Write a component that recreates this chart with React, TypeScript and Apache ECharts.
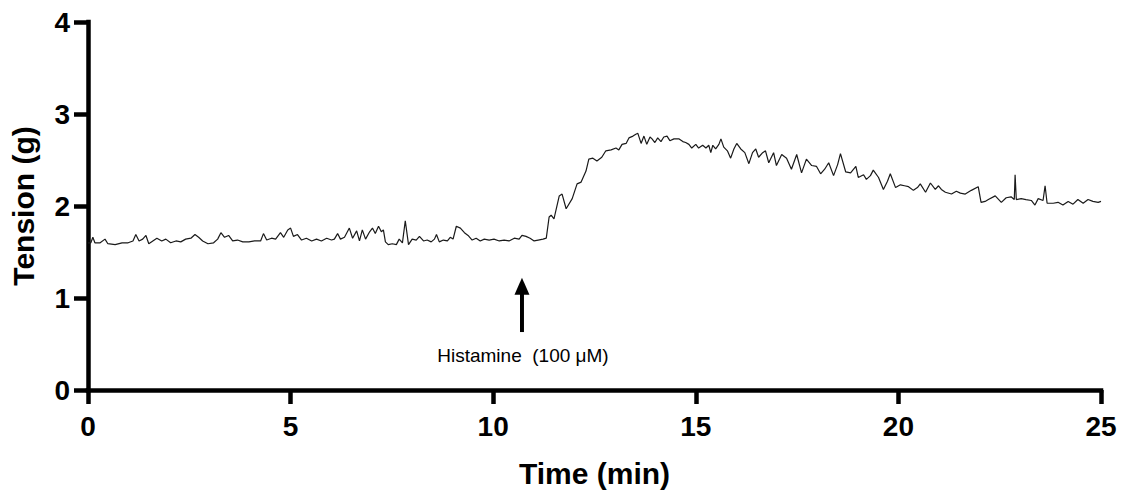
import React, { useEffect, useRef } from "react";
import * as echarts from "echarts";

// Time (min) of each sample of the tension trace
const timeMin = [
  0.0, 0.07, 0.12, 0.17, 0.3, 0.42, 0.49, 0.67, 0.84, 0.99, 1.11, 1.18, 1.26, 1.35, 1.43, 1.5, 1.6, 1.7, 1.82, 1.92,
  2.04, 2.17, 2.29, 2.41, 2.54, 2.64, 2.73, 2.83, 2.96, 3.1, 3.2, 3.28, 3.37, 3.47, 3.57, 3.69, 3.82, 3.97, 4.11, 4.26,
  4.33, 4.41, 4.53, 4.63, 4.75, 4.83, 4.93, 5.0, 5.07, 5.17, 5.27, 5.39, 5.52, 5.64, 5.76, 5.89, 6.01, 6.08, 6.16, 6.23,
  6.33, 6.45, 6.53, 6.63, 6.7, 6.77, 6.85, 6.95, 7.02, 7.09, 7.17, 7.24, 7.29, 7.34, 7.41, 7.51, 7.61, 7.68, 7.76, 7.83,
  7.91, 8.0, 8.1, 8.18, 8.28, 8.37, 8.47, 8.55, 8.6, 8.67, 8.77, 8.87, 8.94, 9.01, 9.09, 9.19, 9.29, 9.38, 9.48, 9.58,
  9.68, 9.78, 9.9, 10.02, 10.15, 10.27, 10.39, 10.52, 10.64, 10.71, 10.81, 10.91, 11.01, 11.11, 11.23, 11.31,
  11.38, 11.43, 11.5, 11.63, 11.7, 11.8, 11.95, 12.07, 12.17, 12.29, 12.36, 12.46, 12.56, 12.68, 12.78, 12.91, 13.03,
  13.1, 13.18, 13.28, 13.35, 13.45, 13.52, 13.57, 13.65, 13.72, 13.79, 13.87, 13.92, 13.99, 14.06, 14.14, 14.21, 14.29,
  14.36, 14.46, 14.58, 14.68, 14.75, 14.83, 14.9, 15.0, 15.07, 15.17, 15.25, 15.32, 15.37, 15.42, 15.49, 15.57, 15.62,
  15.69, 15.78, 15.86, 15.94, 16.01, 16.11, 16.21, 16.31, 16.4, 16.48, 16.55, 16.65, 16.72, 16.8, 16.92, 16.99, 17.12,
  17.24, 17.36, 17.49, 17.61, 17.73, 17.86, 17.98, 18.08, 18.18, 18.28, 18.4, 18.5, 18.57, 18.7, 18.82, 18.95, 19.01,
  19.14, 19.21, 19.31, 19.38, 19.51, 19.63, 19.73, 19.8, 19.93, 20.05, 20.15, 20.25, 20.37, 20.47, 20.54, 20.67, 20.79,
  20.91, 20.99, 21.06, 21.16, 21.31, 21.43, 21.53, 21.65, 21.8, 21.97, 22.04, 22.14, 22.22, 22.39, 22.54, 22.66, 22.78,
  22.86, 22.88, 22.91, 23.03, 23.15, 23.28, 23.37, 23.45, 23.57, 23.62, 23.67, 23.82, 23.94, 24.06, 24.19, 24.31, 24.43,
  24.56, 24.68, 24.8, 24.93, 25.0,
];

// Tension (g) at each sample
const tensionG = [
  1.6, 1.6, 1.66, 1.6, 1.6, 1.64, 1.59, 1.58, 1.6, 1.6, 1.62, 1.69, 1.62, 1.64, 1.68, 1.59, 1.62, 1.65, 1.62, 1.64,
  1.6, 1.62, 1.61, 1.64, 1.65, 1.69, 1.66, 1.62, 1.59, 1.6, 1.64, 1.71, 1.66, 1.68, 1.62, 1.63, 1.61, 1.61, 1.62, 1.62,
  1.7, 1.63, 1.65, 1.64, 1.71, 1.66, 1.74, 1.76, 1.67, 1.69, 1.63, 1.65, 1.62, 1.64, 1.62, 1.65, 1.63, 1.64, 1.7, 1.64,
  1.66, 1.76, 1.65, 1.73, 1.62, 1.74, 1.64, 1.72, 1.76, 1.7, 1.78, 1.72, 1.74, 1.61, 1.58, 1.59, 1.58, 1.64, 1.6, 1.84,
  1.58, 1.64, 1.63, 1.67, 1.62, 1.63, 1.61, 1.64, 1.69, 1.61, 1.63, 1.62, 1.66, 1.64, 1.78, 1.76, 1.71, 1.68, 1.63, 1.65,
  1.62, 1.64, 1.63, 1.64, 1.62, 1.63, 1.62, 1.65, 1.64, 1.68, 1.67, 1.65, 1.62, 1.63, 1.64, 1.65,
  1.88, 1.9, 1.86, 2.11, 2.13, 1.97, 2.08, 2.24, 2.26, 2.38, 2.51, 2.52, 2.49, 2.53, 2.6, 2.61, 2.63,
  2.61, 2.67, 2.68, 2.74, 2.76, 2.78, 2.79, 2.68, 2.76, 2.67, 2.75, 2.73, 2.69, 2.74, 2.7, 2.75, 2.76,
  2.71, 2.73, 2.73, 2.7, 2.69, 2.67, 2.63, 2.67, 2.63, 2.66, 2.63, 2.66, 2.58, 2.66, 2.62, 2.67, 2.73,
  2.64, 2.6, 2.52, 2.62, 2.68, 2.62, 2.58, 2.46, 2.58, 2.62, 2.53, 2.58, 2.6, 2.47, 2.58, 2.44, 2.56,
  2.52, 2.4, 2.56, 2.36, 2.51, 2.44, 2.43, 2.35, 2.4, 2.47, 2.33, 2.45, 2.57, 2.37, 2.36, 2.43, 2.31,
  2.34, 2.29, 2.33, 2.39, 2.31, 2.18, 2.27, 2.35, 2.2, 2.23, 2.22, 2.21, 2.17, 2.2, 2.24, 2.15, 2.25,
  2.18, 2.22, 2.18, 2.15, 2.13, 2.16, 2.14, 2.13, 2.17, 2.21, 2.04, 2.05, 2.07, 2.11, 2.04, 2.09, 2.1,
  2.07, 2.34, 2.07, 2.08, 2.07, 2.06, 2.01, 2.08, 2.06, 2.22, 2.03, 2.03, 2.04, 2.01, 2.05, 2.02, 2.07,
  2.03, 2.07, 2.05, 2.04, 2.05,
];

const xTickValues = [0, 5, 10, 15, 20, 25];
const yTickValues = [0, 1, 2, 3, 4];

// Annotation (data coordinates)
const arrowTime = 10.71;
const arrowTipValue = 1.22;
const arrowBaseValue = 0.63;
const annotationLabelValue = 0.38;
const annotationText = "Histamine  (100 \u03bcM)";

const FONT = '"Liberation Sans", Arial, Helvetica, sans-serif';

export default function App() {
  const ref = useRef<HTMLDivElement>(null);

  useEffect(() => {
    if (!ref.current) return;
    const chart = echarts.init(ref.current, undefined, { renderer: "svg" });
    const data = timeMin.map((t, i) => [t, tensionG[i]]);

    const axisCommon = {
      axisLine: { show: true, onZero: false, lineStyle: { color: "#000", width: 4.5, cap: "square" } },
      axisTick: { show: true, length: 14, lineStyle: { color: "#000", width: 4.5 } },
      splitLine: { show: false },
      nameLocation: "middle" as const,
      nameTextStyle: { color: "#000", fontSize: 30, fontWeight: "bold", fontFamily: FONT },
    };

    chart.setOption({
      animation: false,
      backgroundColor: "#fff",
      grid: { left: 87, right: 25, top: 22, bottom: 101, containLabel: false },
      xAxis: {
        type: "value",
        min: xTickValues[0],
        max: xTickValues[xTickValues.length - 1],
        interval: xTickValues[1] - xTickValues[0],
        name: "Time (min)",
        nameGap: 68,
        ...axisCommon,
        axisLabel: { color: "#000", fontSize: 28, fontWeight: "bold", fontFamily: FONT, margin: 22 },
      },
      yAxis: {
        type: "value",
        min: yTickValues[0],
        max: yTickValues[yTickValues.length - 1],
        interval: yTickValues[1] - yTickValues[0],
        name: "Tension (g)",
        nameGap: 50,
        nameRotate: 90,
        ...axisCommon,
        axisLabel: { color: "#000", fontSize: 28, fontWeight: "bold", fontFamily: FONT, margin: 18 },
      },
      series: [
        {
          type: "line",
          data,
          showSymbol: false,
          symbol: "none",
          lineStyle: { color: "#1a1a1a", width: 1.2 },
          z: 1,
        },
      ],
    });

    const [ax, tipY] = chart.convertToPixel({ gridIndex: 0 }, [arrowTime, arrowTipValue]) as number[];
    const [, baseY] = chart.convertToPixel({ gridIndex: 0 }, [arrowTime, arrowBaseValue]) as number[];
    const [, labelY] = chart.convertToPixel({ gridIndex: 0 }, [arrowTime, annotationLabelValue]) as number[];
    const headH = 17;
    const headW = 15;

    chart.setOption({
      graphic: [
        {
          type: "polygon",
          shape: { points: [[ax, tipY], [ax - headW / 2, tipY + headH], [ax + headW / 2, tipY + headH]] },
          style: { fill: "#000" },
        },
        {
          type: "line",
          shape: { x1: ax, y1: tipY + headH - 2, x2: ax, y2: baseY },
          style: { stroke: "#000", lineWidth: 4 },
        },
        {
          type: "text",
          x: ax + 1,
          y: labelY,
          style: {
            text: annotationText,
            font: `19px ${FONT}`,
            fill: "#000",
            align: "center",
            verticalAlign: "middle",
            textAlign: "center",
            textVerticalAlign: "middle",
          },
        },
      ],
    });

    return () => chart.dispose();
  }, []);

  return (
    <div
      ref={ref}
      style={{ position: "fixed", left: 0, top: 0, width: 1126, height: 493, background: "#fff" }}
    />
  );
}
